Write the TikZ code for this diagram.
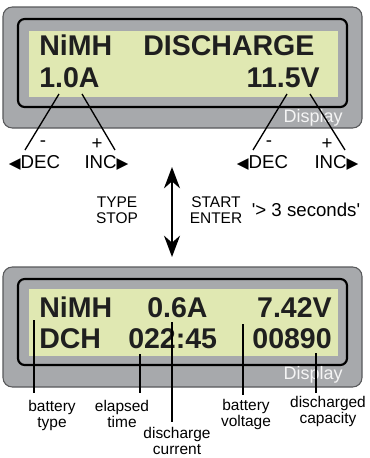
\documentclass[tikz,border=0pt]{standalone}
\usepackage{fontspec}
\setmainfont{Liberation Sans}
\newfontfamily\symfont{DejaVu Sans}
\usetikzlibrary{arrows.meta, positioning}
\definecolor{lcdgreen}{HTML}{E0E8B2}
\definecolor{casegray}{HTML}{A7A9AC}
\definecolor{caseedge}{HTML}{58595B}
\newcommand{\tril}{{\symfont\fontsize{11.5}{12}\selectfont ◀}}
\newcommand{\trir}{{\symfont\fontsize{11.5}{12}\selectfont ▶}}

\begin{document}
\begin{tikzpicture}[x=0.75pt, y=-0.75pt,
    casing/.style={draw=caseedge, fill=casegray, line width=0.8pt, rounded corners=7pt},
    bezel/.style={draw=black, fill=casegray, line width=1.6pt, rounded corners=5pt},
    screen/.style={fill=lcdgreen},
    lcd/.style={inner sep=0pt, font=\fontsize{21.4}{24}\selectfont\bfseries, text=black!88},
    brand/.style={inner sep=0pt, font=\fontsize{13.5}{15}\selectfont, text=white!92!gray},
    key/.style={inner sep=0pt, font=\fontsize{14}{16}\selectfont},
    note/.style={inner sep=0pt, font=\fontsize{11.6}{12}\selectfont, align=center},
    lead/.style={line width=1pt},
    bigarrow/.style={line width=1.6pt, {Stealth[length=16pt, width=12pt]}-{Stealth[length=16pt, width=12pt]}}]
    \useasboundingbox (0,0) rectangle (369,458);

    % top display
    \draw[casing] (3,7) rectangle (362,128);
    \draw[bezel] (18,19) rectangle (347,107);
    \fill[screen] (29,31) rectangle (338,97);
    \node[lcd, anchor=base west] (mode) at (39,55) {NiMH};
    \node[lcd, anchor=base west] (dis) at (143,55) {DISCHARGE};
    \node[lcd, anchor=base west] (amps) at (39,87) {1.0A};
    \node[lcd, anchor=base east] (volts) at (320,87) {11.5V};
    \node[brand, anchor=base east] (brand1) at (343,122) {Display};

    \node[key] (minusA) at (43,144) {-};
    \node[key] (plusA) at (97,144) {+};
    \node[key] (decA) at (34.5,163) {\tril DEC};
    \node[key] (incA) at (106.5,163) {INC\trir};
    \node[key] (minusV) at (269,144) {-};
    \node[key] (plusV) at (327,144) {+};
    \node[key] (decV) at (262.5,163) {\tril DEC};
    \node[key] (incV) at (336.5,163) {INC\trir};

    \coordinate (a1) at (59,94);  \coordinate (a1e) at (25,150);
    \coordinate (a2) at (82,94);  \coordinate (a2e) at (115,150);
    \coordinate (v1) at (287,94); \coordinate (v1e) at (253,150);
    \coordinate (v2) at (310,94); \coordinate (v2e) at (345,150);
    \draw[lead] (a1) -- (a1e);
    \draw[lead] (a2) -- (a2e);
    \draw[lead] (v1) -- (v1e);
    \draw[lead] (v2) -- (v2e);

    % buttons
    \coordinate (up) at (172,167);
    \coordinate (down) at (172,257);
    \draw[bigarrow] (up) -- (down);
    \node[note] (typestop) at (117,210) {TYPE\\STOP};
    \node[note] (startenter) at (216,210) {START\\ENTER};
    \node[key] (hold) at (306,210) {\textquotesingle> 3 seconds\textquotesingle};

    % bottom display
    \draw[casing] (3,267) rectangle (362,387);
    \draw[bezel] (18,279) rectangle (347,365);
    \fill[screen] (29,289) rectangle (338,356);
    \node[lcd, anchor=base west] (bat) at (39,317) {NiMH};
    \node[lcd, anchor=base west] (cur) at (147,317) {0.6A};
    \node[lcd, anchor=base east] (volt) at (332,317) {7.42V};
    \node[lcd, anchor=base west] (dch) at (39,348) {DCH};
    \node[lcd, anchor=base west] (time) at (128,348) {022:45};
    \node[lcd, anchor=base east] (cap) at (332,348) {00890};
    \node[brand, anchor=base east] (brand2) at (343,379) {Display};

    \node[note] (lbat) at (52,415) {battery\\type};
    \node[note] (ltime) at (122,413.5) {elapsed\\time};
    \node[note] (lcur) at (177,441) {discharge\\current};
    \node[note] (lvolt) at (246,414.5) {battery\\voltage};
    \node[note] (lcap) at (328,411.5) {discharged\\capacity};

    \coordinate (p1) at (34,320);  \coordinate (p1e) at (34,393);
    \coordinate (p2) at (140,354); \coordinate (p2e) at (140,393);
    \coordinate (p3) at (172,322); \coordinate (p3e) at (172,422);
    \coordinate (p4) at (243,324); \coordinate (p4e) at (243,395);
    \coordinate (p5) at (316,353); \coordinate (p5e) at (316,393);
    \draw[lead] (p1) -- (p1e);
    \draw[lead] (p2) -- (p2e);
    \draw[lead] (p3) -- (p3e);
    \draw[lead] (p4) -- (p4e);
    \draw[lead] (p5) -- (p5e);
\end{tikzpicture}
\end{document}
